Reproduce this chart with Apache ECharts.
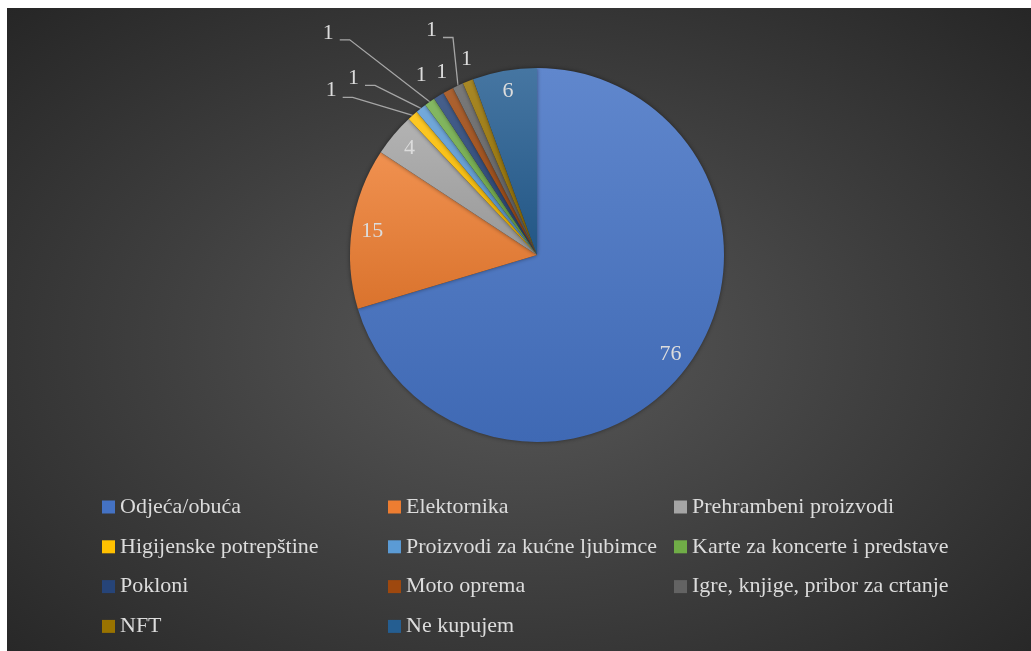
<!DOCTYPE html>
<html>
<head>
<meta charset="utf-8">
<script src="https://cdn.jsdelivr.net/npm/echarts@6/dist/echarts.min.js"></script>
<style>
html, body { margin: 0; padding: 0; background: #fff; }
#chart {
  position: absolute; left: 7px; top: 8px; width: 1024px; height: 643px;
  background: radial-gradient(ellipse farthest-corner at 50% 52%, #595959 0%, #3f3f3f 50%, #262626 100%);
}
</style>
</head>
<body>
<div id="chart"></div>
<script>
// kategorije i vrijednosti
const categories = [
  'Odjeća/obuća', 'Elektornika', 'Prehrambeni proizvodi', 'Higijenske potrepštine',
  'Proizvodi za kućne ljubimce', 'Karte za koncerte i predstave', 'Pokloni',
  'Moto oprema', 'Igre, knjige, pribor za crtanje', 'NFT', 'Ne kupujem'
]
const values = [76, 15, 4, 1, 1, 1, 1, 1, 1, 1, 6]

// legenda u tri stupca
const legendColumns = [
  ['Odjeća/obuća', 'Higijenske potrepštine', 'Pokloni', 'NFT'],
  ['Elektornika', 'Proizvodi za kućne ljubimce', 'Moto oprema', 'Ne kupujem'],
  ['Prehrambeni proizvodi', 'Karte za koncerte i predstave', 'Igre, knjige, pribor za crtanje']
]

const baseColors = ['#4472C4', '#ED7D31', '#A5A5A5', '#FFC000', '#5B9BD5', '#70AD47',
  '#264478', '#9E480E', '#636363', '#997300', '#255E91']

// male kriške (indeksi 3..9): kraj vodilice u odnosu na rub kriške, i ima li vodilicu
const labelEnds = [[-70, -18], [-56, -23], [-90, -62], [-6, -14], [5, -11], [-15, -48], [10, -15]]
const hasLeader = [true, true, true, false, false, true, false]

const font = 'Liberation Serif'
const fontSize = 22

const mix = (hex, target, t) => {
  const n = parseInt(hex.slice(1), 16)
  const c = [(n >> 16) & 255, (n >> 8) & 255, n & 255].map(v => Math.round(v + (target - v) * t))
  return 'rgb(' + c.join(',') + ')'
}

const sliceColor = (hex) => new echarts.graphic.LinearGradient(0, 0, 0, 1, [
  { offset: 0, color: mix(hex, 255, 0.15) },
  { offset: 1, color: mix(hex, 0, 0.08) }
])

const chart = echarts.init(document.getElementById('chart'), null, { renderer: 'canvas' })

const mainData = categories.map((name, i) => {
  const item = { name, value: values[i], itemStyle: { color: sliceColor(baseColors[i]) } }
  if (i >= 3 && i <= 9) {
    item.label = { show: true, position: 'outside' }
    item.labelLine = {
      show: true, length: 10, length2: 10,
      lineStyle: { color: '#a6a6a6', width: 1.3, opacity: hasLeader[i - 3] ? 1 : 0 }
    }
  }
  return item
})

const labelData = categories.map((name, i) => ({
  name, value: values[i],
  label: { show: i < 3 || i === 10 }
}))

const option = {
  backgroundColor: 'transparent',
  animation: false,
  textStyle: { fontFamily: font },
  legend: legendColumns.map((names, i) => ({
    orient: 'vertical',
    left: [90, 376, 662][i],
    top: 483,
    padding: 5,
    itemWidth: 13,
    itemHeight: 13,
    itemGap: 17.8,
    icon: 'rect',
    selectedMode: false,
    data: names.map(n => ({ name: n, itemStyle: { color: baseColors[categories.indexOf(n)] } })),
    textStyle: { color: '#dcdcdc', fontFamily: font, fontSize: fontSize, lineHeight: 22 }
  })),
  series: [
    {
      name: 'main',
      type: 'pie',
      center: [530, 247],
      radius: [0, 187],
      startAngle: 90,
      avoidLabelOverlap: false,
      itemStyle: { shadowBlur: 4, shadowColor: 'rgba(0,0,0,0.45)' },
      label: { show: false, color: '#dcdcdc', fontFamily: font, fontSize: fontSize, formatter: '{c}' },
      labelLayout: function (p) {
        const k = p.dataIndex - 3
        if (k < 0 || k > 6 || !p.labelLinePoints) return {}
        const p0 = [p.labelLinePoints[0][0], p.labelLinePoints[0][1]]
        const end = [p0[0] + labelEnds[k][0], p0[1] + labelEnds[k][1]]
        return {
          x: end[0] - 6,
          y: end[1] - 7,
          align: 'right',
          verticalAlign: 'middle',
          labelLinePoints: [p0, [end[0] + 10, end[1]], end]
        }
      },
      emphasis: { disabled: true },
      data: mainData
    },
    {
      name: 'labels',
      type: 'pie',
      center: [530, 247],
      radius: [140, 187],
      startAngle: 90,
      silent: true,
      itemStyle: { color: 'transparent' },
      label: { position: 'inside', color: '#dcdcdc', fontFamily: font, fontSize: fontSize, formatter: '{c}' },
      labelLine: { show: false },
      emphasis: { disabled: true },
      data: labelData
    }
  ]
}

chart.setOption(option)
</script>
</body>
</html>
